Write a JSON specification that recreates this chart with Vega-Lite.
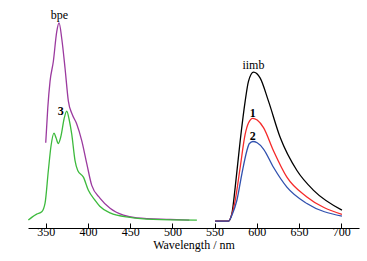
{
  "$schema": "https://vega.github.io/schema/vega-lite/v6.json",
  "width": 331,
  "height": 218,
  "padding": {"left": 28, "top": 10, "right": 8, "bottom": 33},
  "autosize": {"type": "none"},
  "background": "white",
  "config": {"view": {"stroke": null}, "font": "Liberation Serif"},
  "datasets": {
    "spectra": [
      {"s": "bpe", "w": 350, "v": 86},
      {"s": "bpe", "w": 352.4, "v": 121},
      {"s": "bpe", "w": 355.1, "v": 148},
      {"s": "bpe", "w": 359.0, "v": 168},
      {"s": "bpe", "w": 363.0, "v": 198},
      {"s": "bpe", "w": 365.8, "v": 207},
      {"s": "bpe", "w": 369.0, "v": 191},
      {"s": "bpe", "w": 372.9, "v": 161},
      {"s": "bpe", "w": 376.8, "v": 128},
      {"s": "bpe", "w": 381.2, "v": 115},
      {"s": "bpe", "w": 386.7, "v": 105},
      {"s": "bpe", "w": 392.7, "v": 88},
      {"s": "bpe", "w": 398.6, "v": 65},
      {"s": "bpe", "w": 404.5, "v": 43},
      {"s": "bpe", "w": 414.4, "v": 30},
      {"s": "bpe", "w": 426.2, "v": 20},
      {"s": "bpe", "w": 442.0, "v": 13},
      {"s": "bpe", "w": 457.9, "v": 10.3},
      {"s": "bpe", "w": 497.3, "v": 8.7},
      {"s": "bpe", "w": 520, "v": 8},
      {"s": "3", "w": 329.4, "v": 8},
      {"s": "3", "w": 333.8, "v": 11},
      {"s": "3", "w": 339.3, "v": 14},
      {"s": "3", "w": 345.3, "v": 16.3},
      {"s": "3", "w": 349.2, "v": 25},
      {"s": "3", "w": 353.1, "v": 58},
      {"s": "3", "w": 356.3, "v": 83},
      {"s": "3", "w": 359.8, "v": 95.7},
      {"s": "3", "w": 362.2, "v": 91},
      {"s": "3", "w": 364.9, "v": 85.3},
      {"s": "3", "w": 368.1, "v": 93},
      {"s": "3", "w": 371.7, "v": 110},
      {"s": "3", "w": 374.9, "v": 118},
      {"s": "3", "w": 377.6, "v": 110},
      {"s": "3", "w": 380.8, "v": 94.7},
      {"s": "3", "w": 384.7, "v": 68},
      {"s": "3", "w": 387.9, "v": 58},
      {"s": "3", "w": 394.6, "v": 51.3},
      {"s": "3", "w": 400.5, "v": 38},
      {"s": "3", "w": 408.4, "v": 28},
      {"s": "3", "w": 414.0, "v": 22},
      {"s": "3", "w": 426.2, "v": 15.3},
      {"s": "3", "w": 449.9, "v": 10.7},
      {"s": "3", "w": 477.2, "v": 8.7},
      {"s": "3", "w": 529, "v": 8},
      {"s": "iimb", "w": 550.6, "v": 7},
      {"s": "iimb", "w": 566.4, "v": 7},
      {"s": "iimb", "w": 570.5, "v": 14.7},
      {"s": "iimb", "w": 574.4, "v": 41.3},
      {"s": "iimb", "w": 580.3, "v": 88},
      {"s": "iimb", "w": 586.2, "v": 128},
      {"s": "iimb", "w": 590.1, "v": 148},
      {"s": "iimb", "w": 596.1, "v": 157.3},
      {"s": "iimb", "w": 604.0, "v": 151.3},
      {"s": "iimb", "w": 613.8, "v": 128},
      {"s": "iimb", "w": 627.7, "v": 91.3},
      {"s": "iimb", "w": 647.5, "v": 58},
      {"s": "iimb", "w": 667.2, "v": 38},
      {"s": "iimb", "w": 700.8, "v": 18},
      {"s": "1", "w": 550.6, "v": 7},
      {"s": "1", "w": 566.4, "v": 7},
      {"s": "1", "w": 570.5, "v": 14},
      {"s": "1", "w": 574.4, "v": 28},
      {"s": "1", "w": 580.3, "v": 61.3},
      {"s": "1", "w": 586.2, "v": 94.7},
      {"s": "1", "w": 590.1, "v": 106},
      {"s": "1", "w": 595.3, "v": 110.7},
      {"s": "1", "w": 600.4, "v": 109},
      {"s": "1", "w": 607.9, "v": 101.3},
      {"s": "1", "w": 619.7, "v": 78},
      {"s": "1", "w": 635.6, "v": 51.3},
      {"s": "1", "w": 659.3, "v": 31.3},
      {"s": "1", "w": 700.8, "v": 13.7},
      {"s": "2", "w": 550.6, "v": 7},
      {"s": "2", "w": 566.4, "v": 7},
      {"s": "2", "w": 570.5, "v": 13},
      {"s": "2", "w": 576.4, "v": 28},
      {"s": "2", "w": 582.3, "v": 54.7},
      {"s": "2", "w": 588.2, "v": 78},
      {"s": "2", "w": 591.0, "v": 85},
      {"s": "2", "w": 595.3, "v": 87.3},
      {"s": "2", "w": 600.4, "v": 86},
      {"s": "2", "w": 607.9, "v": 79.7},
      {"s": "2", "w": 619.7, "v": 61.3},
      {"s": "2", "w": 635.6, "v": 41.3},
      {"s": "2", "w": 659.3, "v": 24.7},
      {"s": "2", "w": 700.8, "v": 12}
    ],
    "names": [
      {"t": "bpe", "w": 366.1, "v": 215},
      {"t": "iimb", "w": 596, "v": 164}
    ],
    "numbers": [
      {"t": "3", "w": 367.8, "v": 118},
      {"t": "1", "w": 595.3, "v": 116.3},
      {"t": "2", "w": 595.3, "v": 93}
    ]
  },
  "layer": [
    {
      "data": {"name": "spectra"},
      "mark": {"type": "line", "interpolate": "monotone", "strokeWidth": 1.3},
      "encoding": {
        "x": {
          "field": "w", "type": "quantitative",
          "scale": {"domain": [329, 721], "nice": false, "zero": false},
          "axis": {
            "orient": "bottom",
            "values": [350, 375, 400, 425, 450, 475, 500, 525, 550, 575, 600, 625, 650, 675, 700],
            "labelExpr": "datum.value % 50 == 0 ? datum.label : ''",
            "tickSize": {"condition": {"test": "datum.value % 50 == 0", "value": -5}, "value": -3},
            "domainColor": "#000", "tickColor": "#000", "domainWidth": 1.2, "tickWidth": 1,
            "labelFont": "Liberation Serif", "labelFontSize": 12, "labelColor": "#000",
            "labelPadding": 3, "grid": false,
            "title": "Wavelength / nm", "titleFont": "Liberation Serif", "titleFontSize": 12,
            "titleFontWeight": "normal", "titleColor": "#000", "titlePadding": 2
          }
        },
        "y": {"field": "v", "type": "quantitative", "scale": {"domain": [0, 218]}, "axis": null},
        "color": {
          "field": "s", "type": "nominal",
          "scale": {"domain": ["bpe", "3", "iimb", "1", "2"], "range": ["#9b3a9f", "#3dba3d", "#000000", "#f52a2a", "#3050ae"]},
          "legend": null
        },
        "detail": {"field": "s"}
      }
    },
    {
      "data": {"name": "names"},
      "mark": {"type": "text", "font": "Liberation Serif", "fontSize": 12, "baseline": "middle", "align": "center", "color": "#000"},
      "encoding": {
        "x": {"field": "w", "type": "quantitative"},
        "y": {"field": "v", "type": "quantitative"},
        "text": {"field": "t"}
      }
    },
    {
      "data": {"name": "numbers"},
      "mark": {"type": "text", "font": "Liberation Serif", "fontSize": 12, "fontWeight": "bold", "baseline": "middle", "align": "center", "color": "#000"},
      "encoding": {
        "x": {"field": "w", "type": "quantitative"},
        "y": {"field": "v", "type": "quantitative"},
        "text": {"field": "t"}
      }
    }
  ]
}
